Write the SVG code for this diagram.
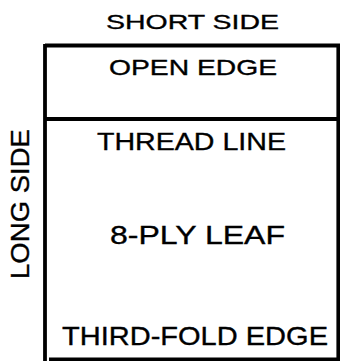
<svg xmlns="http://www.w3.org/2000/svg" width="340" height="361" viewBox="0 0 340 361">
<style>
.t{font-family:"Liberation Sans",Arial,sans-serif;fill:#000;stroke:#000;stroke-width:0.35;}
.l{stroke:#000;stroke-width:3.8;fill:none;}
</style>
<rect width="340" height="361" fill="#fff"/>
<g id="box">
<line class="l" x1="45" y1="44" x2="45" y2="361"/>
<line class="l" x1="338.3" y1="45" x2="338.3" y2="361"/>
<line class="l" x1="45" y1="45.5" x2="340" y2="45.5"/>
<line class="l" x1="45" y1="119" x2="340" y2="119"/>
<line class="l" x1="49" y1="359.5" x2="340" y2="359.5"/>
</g>
<g id="labels">
<text class="t" x="106" y="29" font-size="21" textLength="173" lengthAdjust="spacingAndGlyphs">SHORT SIDE</text>
<text class="t" x="109" y="74.5" font-size="22" textLength="168" lengthAdjust="spacingAndGlyphs">OPEN EDGE</text>
<text class="t" x="97" y="149.5" font-size="24.5" textLength="189" lengthAdjust="spacingAndGlyphs">THREAD LINE</text>
<text class="t" x="110" y="244" font-size="26" textLength="175" lengthAdjust="spacingAndGlyphs">8-PLY LEAF</text>
<text class="t" x="62" y="344.5" font-size="25.5" textLength="266" lengthAdjust="spacingAndGlyphs">THIRD-FOLD EDGE</text>
<text class="t" transform="translate(28.5,279) rotate(-90)" x="0" y="0" font-size="26.5" textLength="150" lengthAdjust="spacingAndGlyphs">LONG SIDE</text>
</g>
</svg>
